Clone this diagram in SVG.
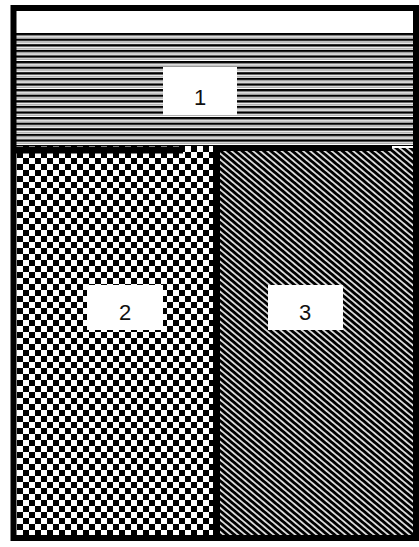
<svg xmlns="http://www.w3.org/2000/svg" width="419" height="547" viewBox="0 0 419 547">
<style>
.lbl{fill:#fff;stroke:none}
.txt{font-family:"Liberation Sans",Arial,sans-serif;font-size:22px;fill:#111;text-anchor:middle}
.bd{stroke:#000;fill:none}
</style>
<defs>
<pattern id="hlines" x="0" y="33" width="8" height="5.6" patternUnits="userSpaceOnUse">
<rect width="8" height="5.6" fill="#fff"/>
<rect y="0" width="8" height="2.4" fill="#000"/>
<rect y="3.6" width="8" height="0.8" fill="#888"/>
</pattern>
<pattern id="checker" x="17" y="152" width="12" height="12" patternUnits="userSpaceOnUse">
<rect width="12" height="12" fill="#fff"/>
<rect x="0" y="0" width="6" height="6" fill="#000"/>
<rect x="6" y="6" width="6" height="6" fill="#000"/>
</pattern>
<pattern id="hatch" width="6" height="4.6" patternUnits="userSpaceOnUse" patternTransform="rotate(40)">
<rect width="6" height="4.6" fill="#bbb"/>
<rect y="0" width="6" height="2.8" fill="#000"/>
<rect y="3.3" width="6" height="0.9" fill="#fff"/>
</pattern>
</defs>
<rect width="419" height="547" fill="#fff"/>
<g id="node1">
<rect x="16" y="11" width="398" height="22" fill="#fff"/>
<rect x="16" y="33" width="398" height="113" fill="url(#hlines)"/>
<rect class="lbl" x="163" y="67" width="74" height="48"/>
<text class="txt" x="200" y="105">1</text>
</g>
<g id="node2">
<rect x="17" y="146" width="198" height="389" fill="url(#checker)"/>
<rect class="lbl" x="87" y="285" width="76" height="45"/>
<text class="txt" x="125" y="320">2</text>
</g>
<g id="node3">
<rect x="218" y="148" width="197" height="387" fill="url(#hatch)"/>
<rect class="lbl" x="268" y="285" width="75" height="45"/>
<text class="txt" x="305" y="320">3</text>
</g>
<g id="connectors">
<rect class="bd" x="13.5" y="8" width="402.5" height="530" stroke-width="6"/>
<line class="bd" x1="16" y1="150" x2="183" y2="150" stroke-width="7"/>
<line class="bd" x1="213" y1="148" x2="392" y2="148" stroke-width="6"/>
<line class="bd" x1="216.5" y1="145" x2="216.5" y2="536" stroke-width="7"/>
</g>
</svg>
